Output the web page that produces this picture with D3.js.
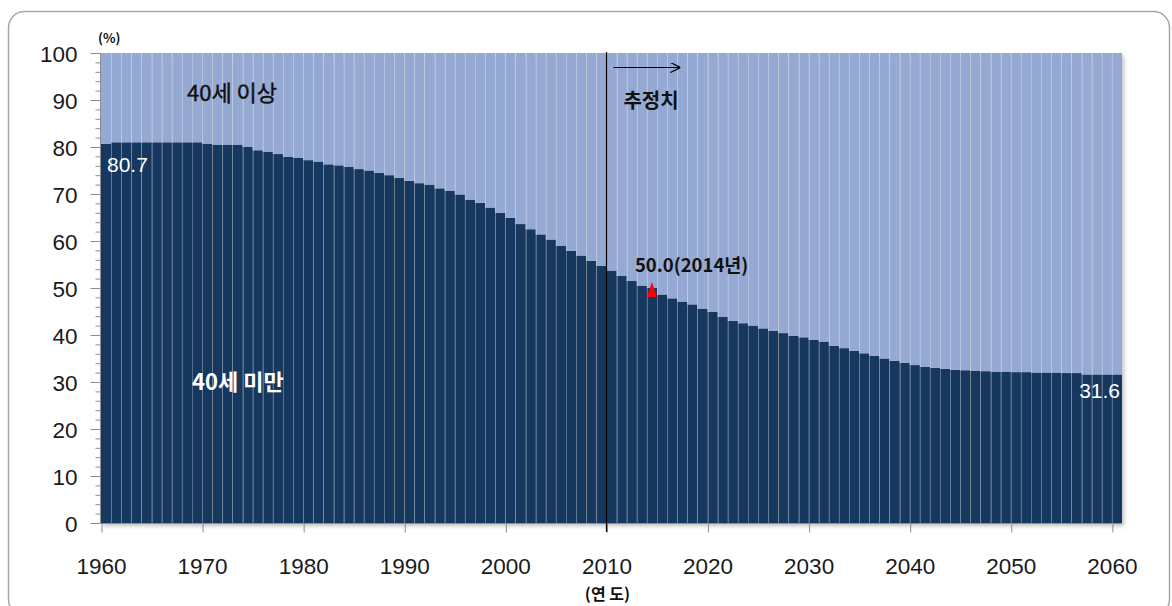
<!DOCTYPE html>
<meta charset="utf-8">
<head>
    <meta charset="utf-8">
    <title>40세 미만 인구 비중</title>
    <script src="https://d3js.org/d3.v7.min.js"></script>
    <style>
        body { margin: 0; background: #fff; }
        text { font-family: "Liberation Sans", "Noto Sans CJK KR", sans-serif; }
        .kr { font-family: "Noto Sans CJK KR", sans-serif; }
    </style>
</head>
<body>
<svg width="1172" height="606"></svg>
<script>
    // years 1960..2060, share of population under 40 (%)
    var years = d3.range(1960, 2061);
    var under40 = [
        80.7, 81.0, 81.0, 81.0, 81.0, 81.0, 81.0, 81.0, 81.0, 81.0,
        80.7, 80.5, 80.5, 80.5, 80.0, 79.3, 79.0, 78.5, 77.9, 77.7,
        77.2, 76.9, 76.3, 76.1, 75.8, 75.3, 75.0, 74.5, 74.0, 73.4,
        72.8, 72.3, 72.0, 71.2, 70.7, 69.9, 68.8, 68.1, 67.1, 66.0,
        64.9, 63.6, 62.5, 61.4, 60.3, 59.0, 57.9, 56.9, 55.8, 54.7,
        53.7, 52.6, 51.5, 50.5, 50.0, 48.6, 47.8, 47.1, 46.5, 45.6,
        44.9, 43.9, 43.0, 42.5, 42.0, 41.4, 40.9, 40.4, 39.8, 39.5,
        39.0, 38.6, 37.7, 37.2, 36.6, 36.1, 35.6, 35.0, 34.5, 34.1,
        33.6, 33.2, 33.0, 32.8, 32.6, 32.5, 32.4, 32.3, 32.2, 32.2,
        32.1, 32.1, 32.0, 32.0, 32.0, 31.9, 31.9, 31.6, 31.6, 31.6,
        31.6
    ];
    var xTicks = [1960, 1970, 1980, 1990, 2000, 2010, 2020, 2030, 2040, 2050, 2060];
    var yTicks = [0, 10, 20, 30, 40, 50, 60, 70, 80, 90, 100];
    var estimateFrom = 2010;
    var markYear = 2014, markValue = 50.0;

    var svg = d3.select("svg");

    // outer frame
    svg.append("rect")
        .attr("x", 8.5).attr("y", 11.5)
        .attr("width", 1161).attr("height", 604)
        .attr("rx", 16)
        .attr("fill", "none")
        .attr("stroke", "#a6a6a6")
        .attr("stroke-width", 1.5);

    var defs = svg.append("defs");
    var f = defs.append("filter").attr("id", "shadow")
        .attr("x", "-2%").attr("y", "-2%").attr("width", "104%").attr("height", "106%");
    f.append("feDropShadow").attr("dx", 2).attr("dy", 3).attr("stdDeviation", 2)
        .attr("flood-color", "#000").attr("flood-opacity", 0.25);

    var x = d3.scaleLinear().domain([1960, 2061]).range([101, 1122]);
    var y = d3.scaleLinear().domain([0, 100]).range([523, 53]);

    var table = years.map(function (yr, i) {
        return { year: yr, under: under40[i], over: 100 - under40[i] };
    });
    var stack = d3.stack().keys(["under", "over"])(table);
    var colours = { under: "#17375e", over: "#95a9d3" };

    var plot = svg.append("g").attr("filter", "url(#shadow)");
    plot.selectAll("g")
        .data(stack)
        .enter().append("g")
        .attr("fill", function (d) { return colours[d.key]; })
        .selectAll("rect")
        .data(function (d) { return d; })
        .enter().append("rect")
        .attr("x", function (d) { return x(d.data.year); })
        .attr("width", function (d) { return x(d.data.year + 1) - x(d.data.year); })
        .attr("y", function (d) { return y(d[1]); })
        .attr("height", function (d) { return y(d[0]) - y(d[1]); });

    // thin separators between bars
    svg.append("g")
        .selectAll("line")
        .data(years.slice(1))
        .enter().append("line")
        .attr("x1", function (d) { return Math.round(x(d)) + 0.5; })
        .attr("x2", function (d) { return Math.round(x(d)) + 0.5; })
        .attr("y1", y(100)).attr("y2", y(0))
        .attr("stroke", "#ffffff")
        .attr("stroke-opacity", 0.28)
        .attr("stroke-width", 1);

    // y axis with minor ticks
    var yMinor = svg.append("g")
        .attr("transform", "translate(100.5,0)")
        .call(d3.axisLeft(y).tickValues(d3.range(0, 101, 2)).tickSize(5).tickFormat(""));
    yMinor.select(".domain").remove();
    yMinor.selectAll("line").attr("stroke", "#8c8c8c");

    var yAxis = svg.append("g")
        .attr("transform", "translate(100.5,0)")
        .call(d3.axisLeft(y).tickValues(yTicks).tickSize(10).tickPadding(13));
    yAxis.select(".domain").attr("stroke", "#8c8c8c").attr("d", "M0," + y(100) + "V" + y(0));
    yAxis.selectAll("line").attr("stroke", "#8c8c8c");
    yAxis.selectAll("text")
        .attr("font-size", 22.5)
        .attr("fill", "#1a1a1a")
        .attr("dy", "0.36em");

    // x axis
    var xAxis = svg.append("g")
        .attr("transform", "translate(0," + (y(0) + 0.5) + ")")
        .call(d3.axisBottom(x).tickValues(xTicks).tickFormat(d3.format("d")).tickSize(9).tickPadding(26));
    xAxis.select(".domain").attr("stroke", "#8c8c8c").attr("d", "M" + x(1960) + ",0H" + x(2061));
    xAxis.selectAll("line").attr("stroke", "#8c8c8c")
        .attr("transform", function () { return "translate(0.5,0)"; });
    xAxis.selectAll("text")
        .attr("font-size", 22.5)
        .attr("fill", "#1a1a1a");

    // estimate boundary line and arrow
    svg.append("line")
        .attr("x1", Math.round(x(estimateFrom)) + 0.5).attr("x2", Math.round(x(estimateFrom)) + 0.5)
        .attr("y1", y(100) - 1).attr("y2", y(0) + 9)
        .attr("stroke", "#000").attr("stroke-width", 1.2);

    defs.append("marker")
        .attr("id", "arrow")
        .attr("viewBox", "0 0 10 10")
        .attr("refX", 10).attr("refY", 5)
        .attr("markerWidth", 10).attr("markerHeight", 10)
        .attr("markerUnits", "userSpaceOnUse")
        .attr("orient", "auto")
        .append("path")
        .attr("d", "M0,0L10,5L0,10")
        .attr("fill", "none")
        .attr("stroke", "#000")
        .attr("stroke-width", 1.2);

    svg.append("line")
        .attr("x1", x(estimateFrom) + 7).attr("x2", x(estimateFrom) + 74)
        .attr("y1", 67.5).attr("y2", 67.5)
        .attr("stroke", "#000").attr("stroke-width", 1.2)
        .attr("marker-end", "url(#arrow)");

    svg.append("text").attr("class", "kr")
        .attr("x", x(estimateFrom) + 17).attr("y", 108)
        .attr("font-size", 20).attr("font-weight", "bold").attr("fill", "#111")
        .text("추정치");

    // region labels
    svg.append("text").attr("class", "kr")
        .attr("x", 187).attr("y", 101)
        .attr("font-size", 22).attr("fill", "#111")
        .attr("stroke", "#111").attr("stroke-width", 0.4)
        .text("40세 이상");
    svg.append("text").attr("class", "kr")
        .attr("x", 192).attr("y", 390)
        .attr("font-size", 22).attr("font-weight", "bold").attr("fill", "#fff")
        .text("40세 미만");

    // value labels
    svg.append("text")
        .attr("x", x(1960) + 6).attr("y", y(under40[0]) + 28)
        .attr("font-size", 21).attr("fill", "#fff")
        .text(d3.format(".1f")(under40[0]));
    svg.append("text")
        .attr("x", x(2061) - 2).attr("y", y(under40[under40.length - 1]) + 24)
        .attr("text-anchor", "end")
        .attr("font-size", 21).attr("fill", "#fff")
        .text(d3.format(".1f")(under40[under40.length - 1]));

    // 2014 marker: tall red triangle
    var mx = (x(markYear) + x(markYear + 1)) / 2;
    var my = y(markValue);
    svg.append("path")
        .attr("d", "M" + (mx - 5) + "," + (my + 9) + "L" + mx + "," + (my - 6) + "L" + (mx + 5) + "," + (my + 9) + "Z")
        .attr("fill", "#ff0000");
    svg.append("text").attr("class", "kr")
        .attr("x", mx - 17).attr("y", 272)
        .attr("font-size", 18.5).attr("font-weight", "bold").attr("fill", "#111")
        .text(d3.format(".1f")(markValue) + "(" + markYear + "년)");

    svg.append("text").attr("class", "kr")
        .attr("x", 98).attr("y", 43)
        .attr("font-size", 13).attr("font-weight", "bold").attr("fill", "#111")
        .text("(%)");
    svg.append("text").attr("class", "kr")
        .attr("x", x(estimateFrom) + 1).attr("y", 600)
        .attr("text-anchor", "middle")
        .attr("font-size", 16).attr("font-weight", "bold").attr("fill", "#111")
        .text("(연 도)");
</script>
</body>
